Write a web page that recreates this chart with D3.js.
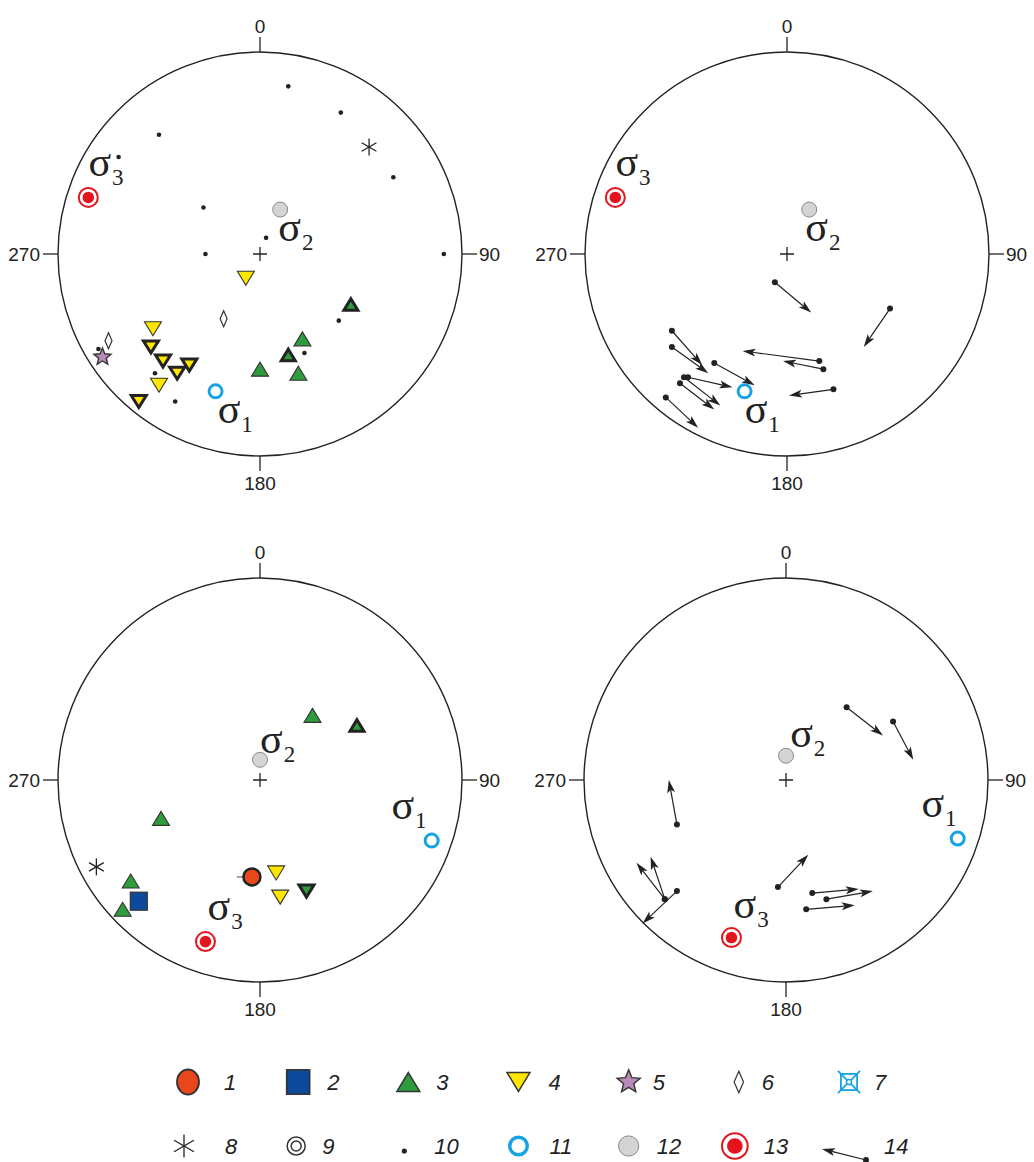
<!DOCTYPE html>
<html>
<head>
<meta charset="utf-8">
<script src="https://cdn.jsdelivr.net/npm/d3@7"></script>
<style>
  body { margin: 0; background: #fff; }
  svg { display: block; }
</style>
</head>
<body>
<div id="chart"></div>
<script>
// compass tick labels (N, E, S, W)
const compassLabels = ['0', '90', '180', '270'];

// positions are in unit-disk coordinates of each net: x east, y north
const pointsA = [
  { t: 'dot10', x: 0.14, y: 0.83 }, { t: 'dot10', x: 0.40, y: 0.70 },
  { t: 'dot10', x: -0.50, y: 0.59 }, { t: 'dot10', x: -0.70, y: 0.48 },
  { t: 'dot10', x: 0.66, y: 0.38 }, { t: 'dot10', x: -0.28, y: 0.23 },
  { t: 'dot10', x: 0.03, y: 0.08 }, { t: 'dot10', x: -0.27, y: 0.00 },
  { t: 'dot10', x: 0.91, y: 0.00 }, { t: 'dot10', x: 0.39, y: -0.33 },
  { t: 'dot10', x: 0.22, y: -0.49 }, { t: 'dot10', x: -0.80, y: -0.47 },
  { t: 'dot10', x: -0.52, y: -0.59 }, { t: 'dot10', x: -0.42, y: -0.73 },
  { t: 'aster8', x: 0.54, y: 0.53 },
  { t: 'grey12', x: 0.10, y: 0.22 },
  { t: 'target13', x: -0.85, y: 0.28 },
  { t: 'ring11', x: -0.22, y: -0.68 },
  { t: 'down4', x: -0.53, y: -0.37 }, { t: 'down4', x: -0.50, y: -0.65 },
  { t: 'down4', x: -0.07, y: -0.12 },
  { t: 'down4b', x: -0.54, y: -0.46 }, { t: 'down4b', x: -0.48, y: -0.53 },
  { t: 'down4b', x: -0.41, y: -0.59 }, { t: 'down4b', x: -0.35, y: -0.55 },
  { t: 'down4b', x: -0.60, y: -0.73 },
  { t: 'diamond6', x: -0.18, y: -0.32 }, { t: 'diamond6', x: -0.75, y: -0.43 },
  { t: 'star5', x: -0.78, y: -0.51 },
  { t: 'tri3', x: 0.21, y: -0.42 }, { t: 'tri3', x: 0.00, y: -0.57 },
  { t: 'tri3', x: 0.19, y: -0.59 },
  { t: 'tri3b', x: 0.45, y: -0.25 }, { t: 'tri3b', x: 0.14, y: -0.50 }
];
const sigmaA = [
  { n: '3', x: -0.79, y: 0.43 }, { n: '2', x: 0.15, y: 0.11 }, { n: '1', x: -0.15, y: -0.79 }
];

const pointsB = [
  { t: 'target13', x: -0.85, y: 0.28 },
  { t: 'grey12', x: 0.11, y: 0.22 },
  { t: 'ring11', x: -0.21, y: -0.68 }
];
// slip arrows: from (x0,y0) to (x1,y1)
const arrowsB = [
  { x0: -0.06, y0: -0.14, x1: 0.12, y1: -0.29 },
  { x0: 0.51, y0: -0.27, x1: 0.38, y1: -0.46 },
  { x0: -0.57, y0: -0.38, x1: -0.42, y1: -0.55 },
  { x0: -0.57, y0: -0.46, x1: -0.39, y1: -0.59 },
  { x0: -0.36, y0: -0.54, x1: -0.16, y1: -0.65 },
  { x0: 0.16, y0: -0.53, x1: -0.22, y1: -0.48 },
  { x0: 0.18, y0: -0.57, x1: -0.02, y1: -0.53 },
  { x0: 0.23, y0: -0.67, x1: 0.01, y1: -0.70 },
  { x0: -0.49, y0: -0.61, x1: -0.27, y1: -0.66 },
  { x0: -0.51, y0: -0.61, x1: -0.33, y1: -0.75 },
  { x0: -0.53, y0: -0.64, x1: -0.36, y1: -0.77 },
  { x0: -0.60, y0: -0.71, x1: -0.44, y1: -0.86 }
];
const sigmaB = [
  { n: '3', x: -0.79, y: 0.43 }, { n: '2', x: 0.15, y: 0.11 }, { n: '1', x: -0.15, y: -0.79 }
];

const pointsC = [
  { t: 'grey12', x: 0.00, y: 0.10 },
  { t: 'tri3', x: 0.26, y: 0.32 }, { t: 'tri3b', x: 0.48, y: 0.27 },
  { t: 'ring11', x: 0.85, y: -0.30 },
  { t: 'tri3', x: -0.49, y: -0.19 }, { t: 'tri3', x: -0.64, y: -0.50 },
  { t: 'tri3', x: -0.68, y: -0.64 },
  { t: 'aster8', x: -0.81, y: -0.43 },
  { t: 'square2', x: -0.60, y: -0.60 },
  { t: 'circle1b', x: -0.04, y: -0.48 },
  { t: 'down4', x: 0.08, y: -0.46 }, { t: 'down4', x: 0.10, y: -0.58 },
  { t: 'down3b', x: 0.23, y: -0.55 },
  { t: 'target13', x: -0.27, y: -0.80 }
];
const sigmaC = [
  { n: '2', x: 0.06, y: 0.18 }, { n: '1', x: 0.71, y: -0.15 }, { n: '3', x: -0.20, y: -0.65 }
];

const pointsD = [
  { t: 'grey12', x: 0.00, y: 0.12 },
  { t: 'target13', x: -0.27, y: -0.78 },
  { t: 'ring11', x: 0.85, y: -0.29 }
];
const arrowsD = [
  { x0: 0.30, y0: 0.36, x1: 0.48, y1: 0.22 },
  { x0: 0.53, y0: 0.29, x1: 0.63, y1: 0.10 },
  { x0: -0.54, y0: -0.22, x1: -0.58, y1: 0.00 },
  { x0: -0.60, y0: -0.59, x1: -0.74, y1: -0.41 },
  { x0: -0.60, y0: -0.59, x1: -0.67, y1: -0.38 },
  { x0: -0.54, y0: -0.55, x1: -0.71, y1: -0.71 },
  { x0: -0.04, y0: -0.53, x1: 0.11, y1: -0.37 },
  { x0: 0.13, y0: -0.56, x1: 0.36, y1: -0.54 },
  { x0: 0.20, y0: -0.59, x1: 0.43, y1: -0.55 },
  { x0: 0.10, y0: -0.64, x1: 0.34, y1: -0.62 }
];
const sigmaD = [
  { n: '2', x: 0.08, y: 0.21 }, { n: '3', x: -0.20, y: -0.64 }, { n: '1', x: 0.73, y: -0.14 }
];

// legend: symbol type and caption
const legendTypes = ['circle1', 'square2', 'tri3', 'down4', 'star5', 'diamond6', 'cross7',
  'aster8', 'double9', 'dot10', 'ring11', 'grey12', 'target13', 'arrow14'];
const legendCodes = ['1', '2', '3', '4', '5', '6', '7', '8', '9', '10', '11', '12', '13', '14'];

// ---------- layout ----------
const W = 1034, H = 1162, R = 202;
const panels = [
  { cx: 260, cy: 254, pts: pointsA, arrows: [], sig: sigmaA },
  { cx: 787, cy: 254, pts: pointsB, arrows: arrowsB, sig: sigmaB },
  { cx: 260, cy: 780, pts: pointsC, arrows: [], sig: sigmaC },
  { cx: 786, cy: 780, pts: pointsD, arrows: arrowsD, sig: sigmaD }
];

const svg = d3.select('#chart').append('svg')
  .attr('width', W).attr('height', H)
  .attr('viewBox', `0 0 ${W} ${H}`);

const INK = '#222';
const GREEN = '#2e9c3c', YELLOW = '#ffe600', RED = '#e3141c', BLUE = '#17a3e3';

function triPath(w, h, down) {
  const s = down ? -1 : 1;
  return `M0,${-s * h / 2}L${w / 2},${s * h / 2}L${-w / 2},${s * h / 2}Z`;
}

function starPath(ro, ri) {
  const pts = d3.range(10).map(i => {
    const a = -Math.PI / 2 + i * Math.PI / 5;
    const rr = i % 2 ? ri : ro;
    return [rr * Math.cos(a), rr * Math.sin(a)];
  });
  return 'M' + pts.join('L') + 'Z';
}

// draw one symbol centred at (0,0) inside g; k scales for legend
function symbol(g, t, k = 1) {
  switch (t) {
    case 'dot10':
      g.append('circle').attr('r', 2.3 * k).attr('fill', INK);
      break;
    case 'aster8':
      [0, 60, 120].forEach(a => g.append('line')
        .attr('y1', -8.5 * k).attr('y2', 8.5 * k)
        .attr('transform', `rotate(${a})`)
        .attr('stroke', INK).attr('stroke-width', 1.3));
      break;
    case 'grey12':
      g.append('circle').attr('r', 7.5 * k).attr('fill', '#d4d4d4')
        .attr('stroke', '#8a8a8a').attr('stroke-width', 1);
      break;
    case 'target13':
      g.append('circle').attr('r', 9.5 * k).attr('fill', '#fff')
        .attr('stroke', RED).attr('stroke-width', 2);
      g.append('circle').attr('r', 5.8 * k).attr('fill', RED);
      break;
    case 'ring11':
      g.append('circle').attr('r', 6.5 * k).attr('fill', 'none')
        .attr('stroke', BLUE).attr('stroke-width', 3 * Math.sqrt(k));
      break;
    case 'down4':
      g.append('path').attr('d', triPath(17 * k, 14 * k, true))
        .attr('fill', YELLOW).attr('stroke', '#333').attr('stroke-width', 1.1 * k);
      break;
    case 'down4b':
      g.append('path').attr('d', triPath(15, 12, true))
        .attr('fill', YELLOW).attr('stroke', INK).attr('stroke-width', 3)
        .attr('stroke-linejoin', 'miter');
      break;
    case 'down3b':
      g.append('path').attr('d', triPath(15, 12, true))
        .attr('fill', GREEN).attr('stroke', INK).attr('stroke-width', 3);
      break;
    case 'tri3':
      g.append('path').attr('d', triPath(17 * k, 14 * k, false))
        .attr('fill', GREEN).attr('stroke', '#333').attr('stroke-width', 1.1 * k);
      break;
    case 'tri3b':
      g.append('path').attr('d', triPath(14, 11.5, false))
        .attr('fill', GREEN).attr('stroke', INK).attr('stroke-width', 3);
      break;
    case 'diamond6':
      g.append('path')
        .attr('d', `M0,${-8 * k}L${3.5 * k},0L0,${8 * k}L${-3.5 * k},0Z`)
        .attr('fill', '#fff').attr('stroke', '#333').attr('stroke-width', 1.2);
      break;
    case 'star5':
      g.append('path').attr('d', starPath(9 * k, 4 * k))
        .attr('fill', '#b98ab9').attr('stroke', '#333').attr('stroke-width', 1.4);
      break;
    case 'square2':
      g.append('rect').attr('x', -8.5 * k).attr('y', -9 * k)
        .attr('width', 17 * k).attr('height', 18 * k)
        .attr('fill', '#0d4a9c').attr('stroke', '#333').attr('stroke-width', 1.2 * k);
      break;
    case 'circle1':
      g.append('ellipse').attr('rx', 11 * k).attr('ry', 12.5 * k)
        .attr('fill', '#e8471c').attr('stroke', '#333').attr('stroke-width', 1.8);
      break;
    case 'circle1b':
      g.append('line').attr('x1', -15).attr('x2', -9)
        .attr('stroke', '#444').attr('stroke-width', 1);
      g.append('circle').attr('r', 8.5).attr('fill', '#e8471c')
        .attr('stroke', INK).attr('stroke-width', 2.5);
      break;
    case 'cross7': {
      const s = 6 * k;
      g.append('rect').attr('x', -s).attr('y', -s).attr('width', 2 * s).attr('height', 2 * s)
        .attr('fill', 'none').attr('stroke', BLUE).attr('stroke-width', 1.8);
      [[-1, -1, 1, 1], [-1, 1, 1, -1]].forEach(c => g.append('line')
        .attr('x1', c[0] * (s + 3)).attr('y1', c[1] * (s + 3))
        .attr('x2', c[2] * (s + 3)).attr('y2', c[3] * (s + 3))
        .attr('stroke', BLUE).attr('stroke-width', 1.8));
      g.append('circle').attr('r', 2.6).attr('fill', '#fff')
        .attr('stroke', BLUE).attr('stroke-width', 1.5);
      break;
    }
    case 'double9':
      g.append('circle').attr('r', 9).attr('fill', 'none')
        .attr('stroke', '#333').attr('stroke-width', 1.5);
      g.append('circle').attr('r', 5).attr('fill', 'none')
        .attr('stroke', '#333').attr('stroke-width', 1.5);
      break;
  }
}

function arrow(g, p0, p1) {
  const dx = p1[0] - p0[0], dy = p1[1] - p0[1];
  const len = Math.hypot(dx, dy), ux = dx / len, uy = dy / len;
  const hl = 13, hw = 4;
  const bx = p1[0] - ux * hl, by = p1[1] - uy * hl;
  g.append('line')
    .attr('x1', p0[0]).attr('y1', p0[1]).attr('x2', bx + ux * 3).attr('y2', by + uy * 3)
    .attr('stroke', INK).attr('stroke-width', 1.2);
  g.append('path')
    .attr('d', `M${p1[0]},${p1[1]}L${bx - uy * hw},${by + ux * hw}L${bx + ux * 3},${by + uy * 3}L${bx + uy * hw},${by - ux * hw}Z`)
    .attr('fill', INK);
  g.append('circle').attr('cx', p0[0]).attr('cy', p0[1]).attr('r', 3).attr('fill', INK);
}

panels.forEach(p => {
  const x = d3.scaleLinear().domain([-1, 1]).range([p.cx - R, p.cx + R]);
  const y = d3.scaleLinear().domain([-1, 1]).range([p.cy + R, p.cy - R]);
  const g = svg.append('g');

  g.append('circle').attr('cx', x(0)).attr('cy', y(0)).attr('r', R)
    .attr('fill', 'none').attr('stroke', INK).attr('stroke-width', 1.4);

  // compass ticks + labels
  const dirs = [[0, 1], [1, 0], [0, -1], [-1, 0]];
  dirs.forEach((d, i) => {
    g.append('line')
      .attr('x1', x(d[0])).attr('y1', y(d[1]))
      .attr('x2', x(d[0]) + d[0] * 15).attr('y2', y(d[1]) - d[1] * 15)
      .attr('stroke', INK).attr('stroke-width', 1.3);
    const t = g.append('text').text(compassLabels[i])
      .attr('font-family', 'Liberation Sans, Arial, sans-serif')
      .attr('font-size', 19).attr('fill', INK);
    if (i === 0) t.attr('x', x(0)).attr('y', y(1) - 19).attr('text-anchor', 'middle');
    if (i === 1) t.attr('x', x(1) + 17).attr('y', y(0) + 7).attr('text-anchor', 'start');
    if (i === 2) t.attr('x', x(0)).attr('y', y(-1) + 34).attr('text-anchor', 'middle');
    if (i === 3) t.attr('x', x(-1) - 18).attr('y', y(0) + 7).attr('text-anchor', 'end');
  });

  // centre cross
  g.append('path')
    .attr('d', `M${x(0) - 7},${y(0)}H${x(0) + 7}M${x(0)},${y(0) - 7}V${y(0) + 7}`)
    .attr('stroke', INK).attr('stroke-width', 1.3);

  p.arrows.forEach(a => arrow(g, [x(a.x0), y(a.y0)], [x(a.x1), y(a.y1)]));

  p.pts.forEach(d => {
    const s = g.append('g').attr('transform', `translate(${x(d.x)},${y(d.y)})`);
    symbol(s, d.t);
  });

  p.sig.forEach(d => {
    const t = g.append('text')
      .attr('x', x(d.x) - 12).attr('y', y(d.y) + 9)
      .attr('font-family', 'Liberation Serif, Times New Roman, serif')
      .attr('font-size', 42).attr('fill', INK);
    t.append('tspan').text('σ');
    t.append('tspan').text(d.n).attr('font-size', 23).attr('dx', 1).attr('dy', 9);
  });
});

// ---------- legend ----------
const legendX = d3.scalePoint().domain(d3.range(7)).range([188, 849]);
const legendRowY = [1082, 1146];
const rowShift = [[0, 0, 0, 0, 0, 0, 0], [-4, -2, -4, 0, 0, -4, 0]];
const labelGap = [[36, 29, 28, 30, 24, 23, 25], [41, 26, 30, 31, 28, 29, 35]];

legendTypes.forEach((t, i) => {
  const col = i % 7, row = Math.floor(i / 7);
  const cx = legendX(col) + rowShift[row][col];
  const cy = legendRowY[row];
  const g = svg.append('g').attr('transform', `translate(${cx},${cy})`);
  if (t === 'arrow14') {
    arrow(g, [17, 14], [-27, 3]);
  } else if (t === 'dot10') {
    g.append('circle').attr('cy', 5).attr('r', 2.6).attr('fill', INK);
  } else if (t === 'circle1') {
    symbol(g, t, 1);
  } else {
    symbol(g, t, 1.35);
  }
  svg.append('text').text(legendCodes[i])
    .attr('x', cx + labelGap[row][col])
    .attr('y', cy + 8)
    .attr('font-family', 'Liberation Sans, Arial, sans-serif')
    .attr('font-style', 'italic').attr('font-size', 22).attr('fill', INK);
});
</script>
</body>
</html>
